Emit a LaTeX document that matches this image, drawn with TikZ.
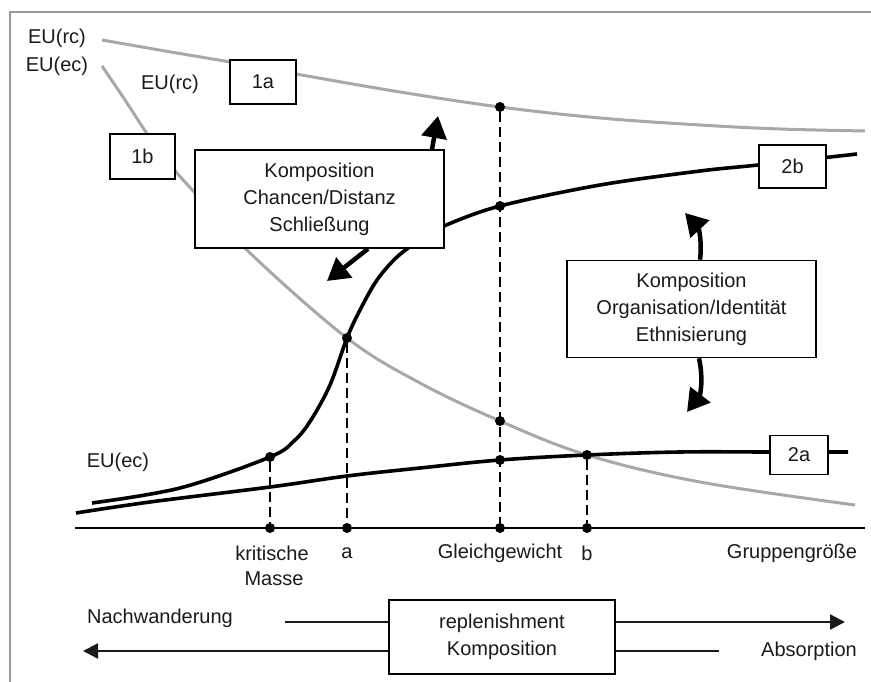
\documentclass[tikz,border=0pt]{standalone}
\usepackage{fontspec}
\setmainfont{Liberation Sans}
\usetikzlibrary{arrows.meta}
\definecolor{curvegray}{HTML}{A8A8A8}
\definecolor{framegray}{HTML}{999999}
\definecolor{ink}{HTML}{1A1A1A}
\begin{document}
\begin{tikzpicture}[x=1pt,y=-1pt,
  lbl/.style={font=\fontsize{20}{27}\selectfont, text=ink, inner sep=0pt, align=center},
  boxnode/.style={draw=black, line width=1.6pt, fill=white, lbl},
  graycurve/.style={draw=curvegray, line width=3pt},
  blackcurve/.style={draw=black, line width=3.6pt},
  dashv/.style={draw=black, line width=2.3pt, dash pattern=on 10pt off 5pt},
  dotn/.style={circle, fill=black, inner sep=0pt, minimum size=10pt},
  bigarrow/.style={draw=black, line width=4.5pt, -{Triangle[length=22pt,width=25pt]}},
  flowline/.style={draw=ink, line width=2.4pt},
  flowarrow/.style={flowline, -{Triangle[length=15pt,width=15pt]}},
]
\useasboundingbox (0,0) rectangle (871,682);
% frame
\draw[framegray, line width=2.4pt] (10,682) -- (10,12) -- (871,12);

% gray curves
\draw[graycurve] plot[smooth, tension=0.6] coordinates {(102,40) (165,51) (230,62) (296,74) (400,92) (500,107) (600,118) (700,125) (780,129) (865,131)};
\draw[graycurve] plot[smooth, tension=0.6] coordinates {(102,66) (125,100) (148,135) (172,167) (195,193) (250,253) (347,338) (420,383) (500,421) (587,455) (700,482) (855,505)};

% black curves
\draw[blackcurve] plot[smooth, tension=0.6] coordinates {(76,513) (150,502) (270,487) (347,476) (420,468) (500,460) (587,455) (680,452) (770,452) (848,452)};
\draw[blackcurve] plot[smooth, tension=0.55] coordinates {(92,503) (180,488) (270,457) (295,440) (311,420) (330,385) (347,338) (360,310) (377,280) (397,257) (420,240) (444,226) (500,206) (600,185) (700,171) (758,165) (857,154)};

% axis
\draw[black, line width=1.8pt] (75,528) -- (865,528);

% dots
\node[dotn] (kAx) at (270,528) {};
\node[dotn] (aAx) at (347,528) {};
\node[dotn] (gAx) at (500,528) {};
\node[dotn] (bAx) at (587,528) {};
\node[dotn] (kC) at (270,457) {};
\node[dotn] (aC) at (347,338) {};
\node[dotn] (gTop) at (500,107) {};
\node[dotn] (gS) at (500,206) {};
\node[dotn] (gG) at (500,421) {};
\node[dotn] (gL) at (500,460) {};
\node[dotn] (bC) at (587,455) {};

% dashed verticals
\draw[dashv] (kC) -- (kAx);
\draw[dashv] (aC) -- (aAx);
\draw[dashv] (gTop) -- (gAx);
\draw[dashv] (bC) -- (bAx);

% labels
\node[lbl] (lrc) at (57,38) {EU(rc)};
\node[lbl] (lec) at (57,66) {EU(ec)};
\node[lbl] (lrc2) at (170,84) {EU(rc)};
\node[lbl] (lec2) at (118,462) {EU(ec)};
\node[lbl] (lkrit) at (272,553) {kritische};
\node[lbl] (lmasse) at (274,579) {Masse};
\node[lbl] (la) at (347,553) {a};
\node[lbl] (lgg) at (500,553) {Gleichgewicht};
\node[lbl] (lb) at (587,553) {b};
\node[lbl] (lgr) at (792,553) {Gruppengröße};
\node[lbl] (lnach) at (160,618) {Nachwanderung};
\node[lbl] (labs) at (809,651) {Absorption};

% boxes
\node[boxnode, minimum width=66pt, minimum height=44pt] (b1a) at (263,82) {1a};
\node[boxnode, minimum width=65pt, minimum height=45pt] (b1b) at (142.5,156.5) {1b};
\node[boxnode, minimum width=67pt, minimum height=43pt] (b2b) at (792.5,166.5) {2b};
\node[boxnode, minimum width=58pt, minimum height=39pt] (b2a) at (799,455) {2a};
\node[boxnode, minimum width=249pt, minimum height=98pt] (bk1) at (319.5,199) {Komposition\\Chancen/Distanz\\Schließung};
\node[boxnode, minimum width=249pt, minimum height=97pt] (bk2) at (691.5,309) {Komposition\\Organisation/Identität\\Ethnisierung};
\node[boxnode, minimum width=226pt, minimum height=74pt] (bk3) at (502,637) {replenishment\\Komposition};

% big arrows
\coordinate (up1) at (438,116);
\coordinate (dn1) at (327,281);
\draw[bigarrow] (bk1.north -| 432,0) -- (up1);
\draw[bigarrow] (bk1.south -| 368,0) -- (dn1);
\coordinate (up2) at (685,213);
\coordinate (dn2) at (687,412);
\draw[bigarrow] (bk2.north -| 700,0) to[bend right=25] (up2);
\draw[bigarrow] (bk2.south -| 699,0) to[bend left=25] (dn2);

% flow arrows
\coordinate (nL) at (285,622);
\coordinate (aR) at (845,622);
\coordinate (bR) at (719,651);
\coordinate (aL) at (83,651);
\draw[flowline] (nL) -- (bk3.west |- nL);
\draw[flowarrow] (bk3.east |- nL) -- (aR);
\draw[flowline] (bR) -- (bk3.east |- bR);
\draw[flowarrow] (bk3.west |- bR) -- (aL);
\end{tikzpicture}
\end{document}
